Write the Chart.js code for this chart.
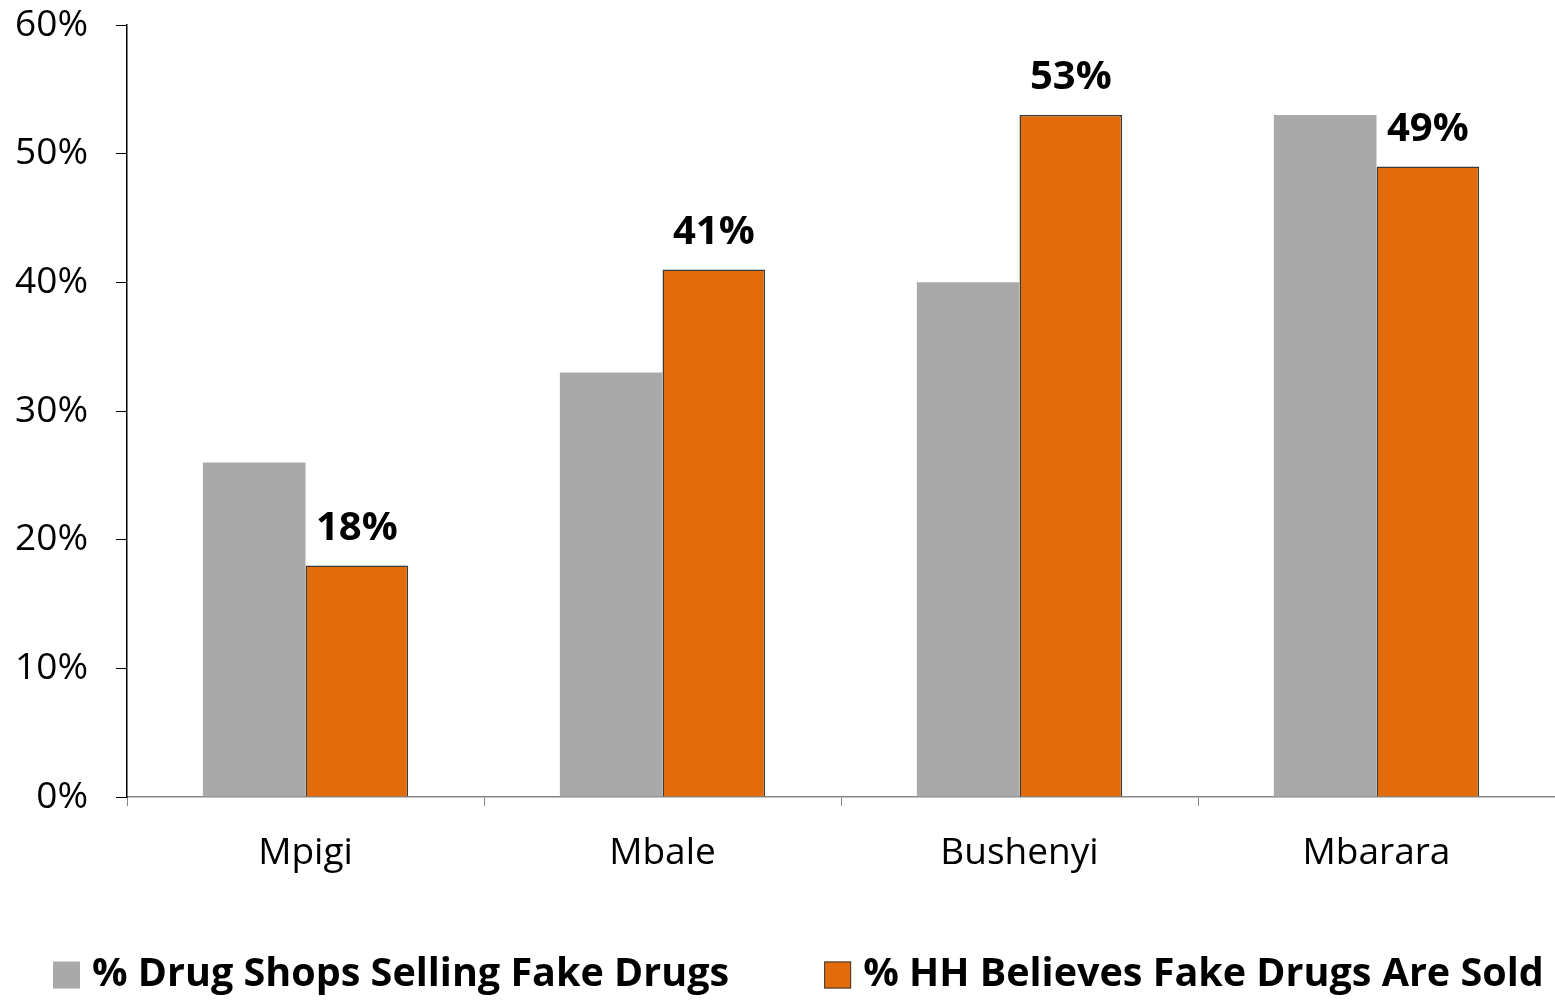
<!DOCTYPE html>
<html>
<head>
<meta charset="utf-8">
<script src="https://cdn.jsdelivr.net/npm/chart.js@4.4.0/dist/chart.umd.min.js"></script>
<style>
  html, body { margin: 0; padding: 0; background: #fff; }
  #wrap { width: 1555px; height: 1001px; }
</style>
</head>
<body>
<div id="wrap"><canvas id="chart"></canvas></div>
<script>
// Data
const districts = ['Mpigi', 'Mbale', 'Bushenyi', 'Mbarara'];
const shopsSelling = [26, 33, 40, 53];
const hhBelieves = [18, 41, 53, 49];
const seriesNames = ['% Drug Shops Selling Fake Drugs', '% HH Believes Fake Drugs Are Sold'];
const yTicks = [0, 10, 20, 30, 40, 50, 60];

const FONT = '"Open Sans", Lato, sans-serif';

// Bold value labels above the orange bars only
const valueLabels = {
    id: 'valueLabels',
    afterDatasetsDraw(chart) {
        const ctx = chart.ctx;
        const meta = chart.getDatasetMeta(1);
        ctx.save();
        ctx.font = 'bold 40px ' + FONT;
        ctx.fillStyle = '#000';
        ctx.textAlign = 'center';
        ctx.textBaseline = 'middle';
        meta.data.forEach((bar, i) => {
            ctx.fillText(hhBelieves[i] + '%', bar.x, bar.y - 37);
        });
        ctx.restore();
    }
};

// Legend drawn along the bottom with a wide gap between the two items
const bottomLegend = {
    id: 'bottomLegend',
    afterDraw(chart) {
        const ctx = chart.ctx;
        const box = 27, gapText = 12, gapItem = 95, y = 975;
        ctx.save();
        ctx.font = 'bold 39.5px ' + FONT;
        ctx.textBaseline = 'middle';
        let x = 53;
        chart.data.datasets.forEach(ds => {
            ctx.fillStyle = ds.backgroundColor;
            ctx.fillRect(x, y - box / 2, box, box);
            if (ds.borderWidth) {
                ctx.strokeStyle = ds.borderColor;
                ctx.lineWidth = 1;
                ctx.strokeRect(x + 0.5, y - box / 2 + 0.5, box - 1, box - 1);
            }
            x += box + gapText;
            ctx.fillStyle = '#000';
            ctx.fillText(ds.label, x, y);
            x += ctx.measureText(ds.label).width + gapItem;
        });
        ctx.restore();
    }
};

new Chart(document.getElementById('chart').getContext('2d'), {
    type: 'bar',
    data: {
        labels: districts,
        datasets: [{
            label: seriesNames[0],
            data: shopsSelling,
            backgroundColor: '#a9a9a9',
            borderWidth: 0,
            categoryPercentage: 0.575,
            barPercentage: 1.0
        }, {
            label: seriesNames[1],
            data: hhBelieves,
            backgroundColor: '#e36c0a',
            borderColor: '#3a3a3a',
            borderWidth: 1.5,
            categoryPercentage: 0.575,
            barPercentage: 1.0
        }]
    },
    options: {
        responsive: true,
        maintainAspectRatio: false,
        animation: false,
        layout: { padding: { top: 25, right: 0, left: 0, bottom: 0 } },
        plugins: {
            legend: { display: false },
            tooltip: { enabled: false }
        },
        scales: {
            x: {
                grid: {
                    drawOnChartArea: false,
                    drawTicks: true,
                    tickLength: 9,
                    color: '#868686'
                },
                border: { color: '#868686', width: 1.5 },
                ticks: {
                    color: '#000',
                    padding: 25,
                    font: { family: FONT, size: 37 }
                },
                afterFit(scale) {
                    scale.height = 1001 - 797;
                }
            },
            y: {
                min: 0,
                max: 60,
                afterBuildTicks(scale) {
                    scale.ticks = yTicks.map(v => ({ value: v }));
                },
                grid: {
                    drawOnChartArea: false,
                    drawTicks: true,
                    tickLength: 11,
                    color: '#000'
                },
                border: { color: '#000', width: 1.5 },
                ticks: {
                    color: '#000',
                    padding: 28,
                    font: { family: FONT, size: 37 },
                    callback: v => v + '%'
                },
                afterFit(scale) {
                    scale.width = 127;
                    // the top label may stick out above the plot, as in the original
                    scale.paddingTop = 0;
                    scale.paddingBottom = 0;
                }
            }
        }
    },
    plugins: [valueLabels, bottomLegend]
});
</script>
</body>
</html>
